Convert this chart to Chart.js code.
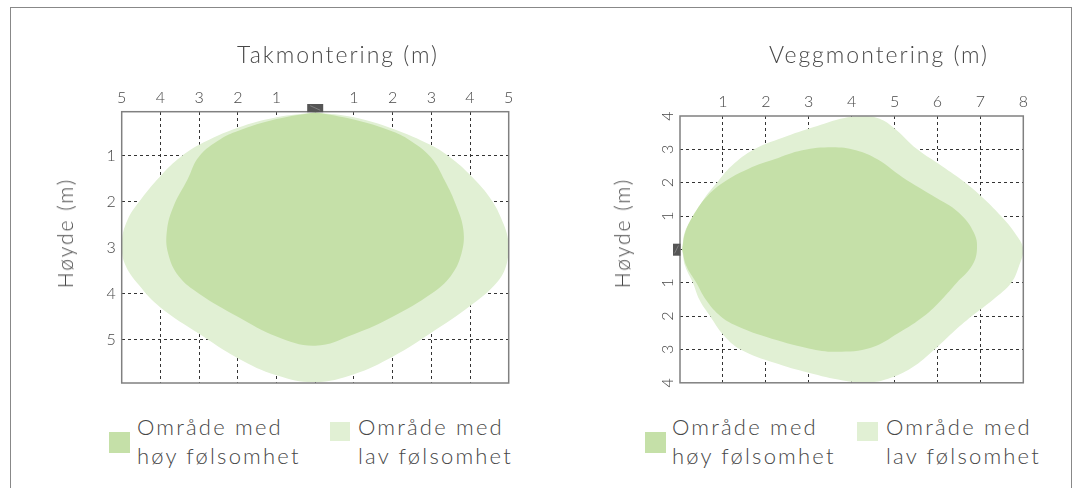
<!DOCTYPE html>
<html>
<head>
<meta charset="utf-8">
<script src="https://cdn.jsdelivr.net/npm/chart.js@4.4.1/dist/chart.umd.min.js"></script>
<style>
	html, body { margin: 0; padding: 0; background: #fff; }
	body { width: 1077px; height: 488px; position: relative; overflow: hidden; font-family: Lato, sans-serif; font-weight: 300; color: #474747; }
	.frame { position: absolute; left: 10px; top: 7px; width: 1060px; height: 520px; border: 1px solid #888; }
	canvas { position: absolute; top: 0; }
	.title { position: absolute; top: 40px; font-size: 23px; line-height: 28px; letter-spacing: 2px; white-space: nowrap; transform: translateX(-50%); }
	.ytitle { position: absolute; font-size: 21px; line-height: 24px; letter-spacing: 2px; white-space: nowrap; transform: translate(-50%, -50%) rotate(-90deg); }
	.sw { position: absolute; }
	.lg { position: absolute; top: 412px; font-size: 22px; line-height: 29px; letter-spacing: 2.2px; white-space: nowrap; }
</style>
</head>
<body>
<div class="frame"></div>

<canvas id="takChart" width="540" height="400" style="left:0"></canvas>
<canvas id="veggChart" width="537" height="400" style="left:540px"></canvas>

<div class="title" style="left:338px">Takmontering (m)</div>
<div class="title" style="left:879px">Veggmontering (m)</div>
<div class="ytitle" style="left:65px; top:233px">Høyde (m)</div>
<div class="ytitle" style="left:622px; top:233px">Høyde (m)</div>

<div class="sw" style="left:109px; top:432px; width:21px; height:21px; background:#c5e0a8"></div>
<div class="lg" style="left:137px">Område med<br>høy følsomhet</div>
<div class="sw" style="left:330px; top:422px; width:20px; height:19px; background:#e1f0d4"></div>
<div class="lg" style="left:358px">Område med<br>lav følsomhet</div>

<div class="sw" style="left:645px; top:432px; width:21px; height:21px; background:#c5e0a8"></div>
<div class="lg" style="left:672px">Område med<br>høy følsomhet</div>
<div class="sw" style="left:857px; top:422px; width:21px; height:19px; background:#e1f0d4"></div>
<div class="lg" style="left:886px">Område med<br>lav følsomhet</div>

<script>
// tick labels
const takXLabels = ['5', '4', '3', '2', '1', '', '1', '2', '3', '4', '5']; // values -5..5
const takYLabels = ['', '1', '2', '3', '4', '5'];                         // values 0..5
const veggXLabels = ['', '1', '2', '3', '4', '5', '6', '7', '8'];          // values 0..8
const veggYLabels = ['4', '3', '2', '1', '', '1', '2', '3', '4'];          // values 4..-4

// Takmontering: [x (m), depth (m)]
const takHoy = [
	[0, 0.06], [1, 0.22], [2, 0.48], [2.5, 0.7], [3, 1.05], [3.35, 1.55], [3.65, 2.1], [3.83, 2.62],
	[3.78, 3.13], [3.5, 3.62], [3, 4.0], [2, 4.5], [1, 4.88], [0, 5.13], [-1, 4.93], [-2, 4.5],
	[-3, 4.0], [-3.52, 3.63], [-3.8, 3.13], [-3.83, 2.62], [-3.66, 2.1], [-3.3, 1.52], [-3, 1.02],
	[-2.45, 0.65], [-2, 0.47], [-1, 0.21], [0, 0.06]
];
const takLav = [
	[0, 0.06], [1, 0.17], [2, 0.42], [3, 0.78], [3.5, 1.05], [4, 1.42], [4.5, 1.9], [4.8, 2.35],
	[5, 2.9], [4.95, 3.35], [4.7, 3.75], [4, 4.27], [3, 4.85], [2, 5.37], [1, 5.75], [0, 5.92],
	[-1, 5.77], [-2, 5.4], [-3, 4.87], [-4, 4.3], [-4.55, 3.82], [-4.92, 3.35], [-5, 2.9],
	[-4.85, 2.4], [-4.5, 1.95], [-3.95, 1.4], [-3.5, 1.05], [-3, 0.77], [-2, 0.4], [-1, 0.17], [0, 0.06]
];

// Veggmontering: [distance (m), height (m)]
const veggHoy = [
	[0.05, 0], [0.12, 0.5], [0.3, 1.0], [0.6, 1.55], [1.0, 2.0], [1.6, 2.42], [2.2, 2.7], [2.85, 2.97],
	[3.55, 3.06], [4.1, 2.97], [4.6, 2.7], [5.2, 2.15], [5.9, 1.6], [6.5, 1.1], [6.85, 0.5], [6.92, 0],
	[6.8, -0.5], [6.45, -1.0], [6.1, -1.5], [5.69, -2.0], [5.1, -2.5], [4.45, -2.95], [3.65, -3.07],
	[3.0, -2.97], [2.0, -2.62], [1.25, -2.25], [0.9, -1.95], [0.6, -1.5], [0.38, -1.0], [0.15, -0.5], [0.05, 0]
];
const veggLav = [
	[0.05, 0], [0.12, 0.55], [0.34, 1.0], [0.55, 1.5], [0.86, 2.0], [1.2, 2.5], [1.73, 3.0], [2.5, 3.4],
	[3.2, 3.7], [3.8, 3.93], [4.2, 3.99], [4.6, 3.94], [4.95, 3.68], [5.53, 3.0], [6.1, 2.5], [6.65, 2.0],
	[7.1, 1.5], [7.48, 1.0], [7.8, 0.5], [8.0, 0], [7.9, -0.5], [7.72, -1.0], [7.3, -1.5], [6.8, -2.0],
	[6.35, -2.5], [5.93, -3.0], [5.4, -3.55], [4.85, -3.88], [4.4, -3.99], [3.8, -3.93], [3.0, -3.7],
	[2.2, -3.4], [1.41, -3.0], [1.0, -2.55], [0.7, -2.0], [0.45, -1.5], [0.3, -1.0], [0.12, -0.5], [0.05, 0]
];

const hoyColor = '#c5e0a8';
const lavColor = '#e1f0d4';

Chart.defaults.font.family = 'Lato';
Chart.defaults.font.size = 16;
Chart.defaults.font.weight = '300';
Chart.defaults.color = '#474747';

const toPoints = arr => arr.map(p => ({x: p[0], y: p[1]}));

const area = (data, color) => ({
	data: toPoints(data),
	showLine: true,
	fill: 'shape',
	backgroundColor: color,
	borderWidth: 0,
	pointRadius: 0,
	tension: 0.4
});

const onlyWhole = scale => {
	scale.ticks = scale.ticks.filter(t => Number.isInteger(t.value));
};

const gridColor = edges => c => (c.tick && edges.includes(c.tick.value)) ? 'rgba(0,0,0,0)' : '#333';

// plot frame + sensor icon
const frameAndSensor = {
	id: 'frameAndSensor',
	afterDraw(chart, args, opts) {
		const {ctx, chartArea: a, scales} = chart;
		ctx.save();
		ctx.strokeStyle = '#808080';
		ctx.lineWidth = 1.5;
		ctx.strokeRect(a.left, a.top, a.right - a.left, a.bottom - a.top);
		ctx.fillStyle = '#555';
		ctx.strokeStyle = '#8a8a8a';
		ctx.lineWidth = 0.8;
		if (opts.mount === 'top') {
			const cx = scales.x.getPixelForValue(0);
			ctx.fillRect(cx - 8, a.top - 7.7, 16, 8.2);
			ctx.beginPath();
			ctx.moveTo(cx - 5, a.top - 6);
			ctx.lineTo(cx + 5, a.top - 1.5);
			ctx.stroke();
		} else {
			const cy = scales.y.getPixelForValue(0);
			ctx.fillRect(a.left - 7, cy - 5.7, 7.5, 12);
			ctx.beginPath();
			ctx.moveTo(a.left - 5.5, cy + 4);
			ctx.lineTo(a.left - 1.5, cy - 4);
			ctx.stroke();
		}
		ctx.restore();
	}
};

const takChart = new Chart(document.getElementById('takChart'), {
	type: 'scatter',
	data: {
		datasets: [area(takHoy, hoyColor), area(takLav, lavColor)]
	},
	options: {
		responsive: false,
		animation: false,
		layout: {padding: {left: 0, top: 0, right: 31.3, bottom: 17}},
		plugins: {
			legend: {display: false},
			tooltip: {enabled: false},
			frameAndSensor: {mount: 'top'}
		},
		scales: {
			x: {
				type: 'linear',
				position: 'top',
				min: -5,
				max: 5,
				afterFit: s => { s.height = 111.7; },
				ticks: {stepSize: 1, autoSkip: false, padding: 4.5, callback: v => takXLabels[v + 5] ?? ''},
				grid: {drawTicks: false, lineWidth: 1, color: gridColor([-5, 5])},
				border: {display: false, dash: [3, 3]}
			},
			y: {
				type: 'linear',
				position: 'left',
				reverse: true,
				min: 0.05,
				max: 5.94,
				afterFit: s => { s.width = 121.7; },
				afterBuildTicks: onlyWhole,
				ticks: {stepSize: 1, autoSkip: false, padding: 6, callback: v => takYLabels[v] ?? ''},
				grid: {drawTicks: false, lineWidth: 1, color: '#333'},
				border: {display: false, dash: [3, 3]}
			}
		}
	},
	plugins: [frameAndSensor]
});

const veggChart = new Chart(document.getElementById('veggChart'), {
	type: 'scatter',
	data: {
		datasets: [area(veggHoy, hoyColor), area(veggLav, lavColor)]
	},
	options: {
		responsive: false,
		animation: false,
		layout: {padding: {left: 0, top: 0, right: 53.7, bottom: 13}},
		plugins: {
			legend: {display: false},
			tooltip: {enabled: false},
			frameAndSensor: {mount: 'left'}
		},
		scales: {
			x: {
				type: 'linear',
				position: 'top',
				min: 0,
				max: 8,
				afterFit: s => { s.height = 116; },
				ticks: {stepSize: 1, autoSkip: false, padding: 4.5, callback: v => veggXLabels[v] ?? ''},
				grid: {drawTicks: false, lineWidth: 1, color: gridColor([0, 8])},
				border: {display: false, dash: [3, 3]}
			},
			y: {
				type: 'linear',
				position: 'left',
				min: -4,
				max: 4,
				afterFit: s => { s.width = 140; },
				ticks: {
					stepSize: 1, autoSkip: false, padding: 7.6,
					minRotation: 90, crossAlign: 'center',
					callback: v => veggYLabels[4 - v] ?? ''
				},
				grid: {drawTicks: false, lineWidth: 1, color: gridColor([-4, 4])},
				border: {display: false, dash: [3, 3]}
			}
		}
	},
	plugins: [frameAndSensor]
});
</script>
</body>
</html>
